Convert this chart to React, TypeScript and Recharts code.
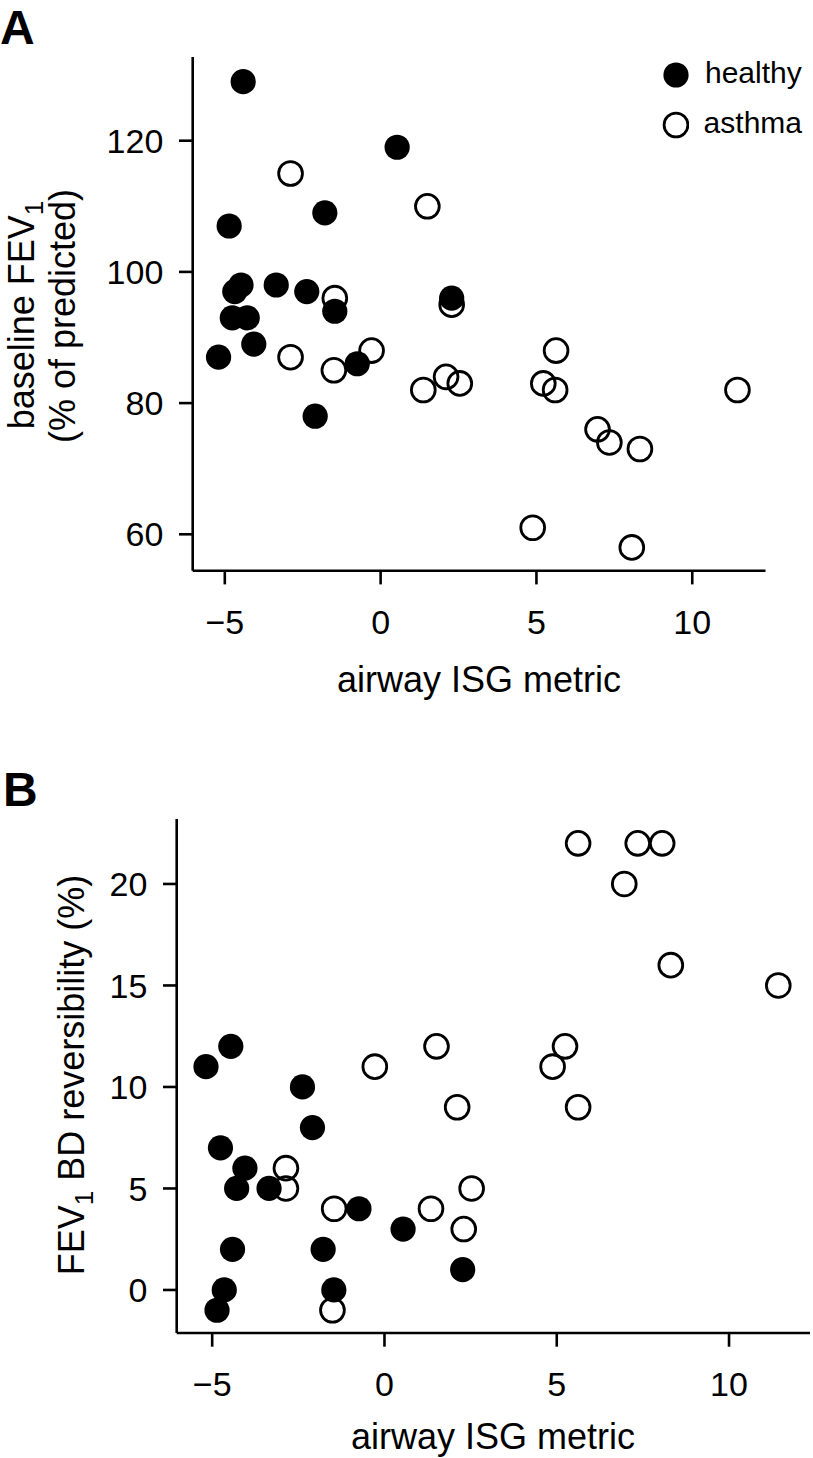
import { ScatterChart, Scatter, XAxis, YAxis, Legend } from "recharts";

const FONT = '"Liberation Sans", Arial, Helvetica, sans-serif';

// tick labels
const isgTicks = [-5, 0, 5, 10];
const fevTicks = [60, 80, 100, 120];
const bdrTicks = [0, 5, 10, 15, 20];

// panel A: airway ISG metric vs baseline FEV1 (% of predicted)
const healthyIsgA = [-4.41, 0.53, -1.79, -4.86, -4.48, -4.68, -3.35, -2.37, -1.47, -4.76, -4.28, -4.07, -5.2, -0.75, -2.1, 2.28];
const healthyFev1 = [129, 119, 109, 107, 98, 97, 98, 97, 94, 93, 93, 89, 87, 86, 78, 96];
const asthmaIsgA = [-2.89, 1.5, -1.47, 2.28, 5.63, -0.29, -2.89, -1.5, 2.1, 2.54, 5.22, 5.6, 1.37, 6.96, 7.34, 8.32, 4.88, 8.06, 11.45];
const asthmaFev1 = [115, 110, 96, 95, 88, 88, 87, 85, 84, 83, 83, 82, 82, 76, 74, 73, 61, 58, 82];

// panel B: airway ISG metric vs FEV1 BD reversibility (%)
const healthyIsgB = [-4.46, -5.18, -2.38, -2.09, -4.76, -4.05, -4.29, -3.35, -0.74, 0.54, -4.41, -1.78, 2.27, -4.65, -1.47, -4.86];
const healthyBdr = [12, 11, 10, 8, 7, 6, 5, 5, 4, 3, 2, 2, 1, 0, 0, -1];
const asthmaIsgB = [5.62, 7.35, 8.06, 6.96, 8.31, 11.43, 5.24, 4.88, 5.62, 1.51, -0.28, 2.11, -2.86, -2.86, -1.46, 1.35, 2.53, 2.3, -1.51];
const asthmaBdr = [22, 22, 22, 20, 16, 15, 12, 11, 9, 12, 11, 9, 6, 5, 4, 4, 5, 3, -1];

const isgDomain: [number, number] = [-6.03, 12.35];

const toPoints = (xs: number[], ys: number[]) => xs.map((x, i) => ({ x, y: ys[i] }));

// R prints negatives with a real minus sign
const fmtTick = (v: number) => (v < 0 ? "\u2212" + Math.abs(v) : String(v));

const FilledDot = (p: any) => <circle cx={p.cx} cy={p.cy} r={12.6} fill="#000" />;
const OpenDot = (p: any) => (
  <circle cx={p.cx} cy={p.cy} r={11.9} fill="none" stroke="#000" strokeWidth={2.8} />
);

const legendRows = [
  { label: "healthy", open: false },
  { label: "asthma", open: true },
];

const LegendBox = () => (
  <div style={{ fontFamily: FONT, fontSize: 30, color: "#000" }}>
    {legendRows.map((row) => (
      <div key={row.label} style={{ display: "flex", alignItems: "center", height: 50 }}>
        <svg width={28} height={28} style={{ display: "block", marginRight: 15 }}>
          {row.open ? (
            <circle cx={14} cy={14} r={11.9} fill="none" stroke="#000" strokeWidth={2.8} />
          ) : (
            <circle cx={14} cy={14} r={12.6} fill="#000" />
          )}
        </svg>
        <span style={{ lineHeight: "30px", position: "relative", top: -2, whiteSpace: "nowrap" }}>
          {row.label}
        </span>
      </div>
    ))}
  </div>
);

interface PanelProps {
  top: number;
  height: number;
  plot: { left: number; top: number; right: number; bottom: number };
  yDomain: [number, number];
  yTicks: number[];
  healthy: { x: number; y: number }[];
  asthma: { x: number; y: number }[];
  showLegend?: boolean;
}

function Panel({ top, height, plot, yDomain, yTicks, healthy, asthma, showLegend }: PanelProps) {
  const yAxisWidth = 150;
  const xAxisHeight = 100;
  const margin = {
    top: plot.top,
    left: plot.left - yAxisWidth,
    right: 813 - plot.right,
    bottom: height - plot.bottom - xAxisHeight,
  };
  const axisStyle = { stroke: "#000", strokeWidth: 2.6 };
  return (
    <div style={{ position: "absolute", left: 0, top }}>
      <ScatterChart width={813} height={height} margin={margin}>
        <XAxis
          type="number"
          dataKey="x"
          domain={isgDomain}
          ticks={isgTicks}
          allowDataOverflow
          height={xAxisHeight}
          tickSize={13.7}
          tickMargin={25.6}
          tickFormatter={fmtTick}
          tick={{ fill: "#000", fontSize: 34 }}
          axisLine={axisStyle}
          tickLine={axisStyle}
          stroke="#000"
        />
        <YAxis
          type="number"
          dataKey="y"
          domain={yDomain}
          ticks={yTicks}
          allowDataOverflow
          width={yAxisWidth}
          tickSize={13.7}
          tickMargin={15.7}
          tick={{ fill: "#000", fontSize: 34 }}
          axisLine={axisStyle}
          tickLine={axisStyle}
          stroke="#000"
        />
        <Scatter name="asthma" data={asthma} shape={OpenDot} isAnimationActive={false} />
        <Scatter name="healthy" data={healthy} shape={FilledDot} isAnimationActive={false} />
        {showLegend && (
          <Legend
            layout="vertical"
            align="center"
            verticalAlign="middle"
            wrapperStyle={{ left: 662, top: 50, width: 140, height: 100 }}
            content={() => <LegendBox />}
          />
        )}
      </ScatterChart>
    </div>
  );
}

export default function App() {
  return (
    <div
      style={{
        position: "absolute",
        left: 0,
        top: 0,
        width: 813,
        height: 1458,
        background: "#fff",
        fontFamily: FONT,
        overflow: "hidden",
      }}
    >
      <Panel
        top={0}
        height={720}
        plot={{ left: 192.7, top: 57, right: 765.5, bottom: 570.7 }}
        yDomain={[54.45, 132.76]}
        yTicks={fevTicks}
        healthy={toPoints(healthyIsgA, healthyFev1)}
        asthma={toPoints(asthmaIsgA, asthmaFev1)}
        showLegend
      />
      <Panel
        top={740}
        height={718}
        plot={{ left: 176.7, top: 79, right: 810, bottom: 593 }}
        yDomain={[-2.12, 23.2]}
        yTicks={bdrTicks}
        healthy={toPoints(healthyIsgB, healthyBdr)}
        asthma={toPoints(asthmaIsgB, asthmaBdr)}
      />
      {/* panel letters and axis titles */}
      <svg
        width={813}
        height={1458}
        style={{ position: "absolute", left: 0, top: 0, pointerEvents: "none", fontFamily: FONT }}
      >
        <text x={0} y={44} fontSize={48} fontWeight="bold" fill="#000">
          A
        </text>
        <text x={3} y={806} fontSize={48} fontWeight="bold" fill="#000">
          B
        </text>

        <text x={479} y={692} fontSize={36} textAnchor="middle" fill="#000">
          airway ISG metric
        </text>
        <text transform="translate(34,315) rotate(-90)" fontSize={36} textAnchor="middle" fill="#000">
          baseline FEV
          <tspan fontSize={26} dy={9}>
            1
          </tspan>
        </text>
        <text transform="translate(75,316) rotate(-90)" fontSize={36} textAnchor="middle" fill="#000">
          (% of predicted)
        </text>

        <text x={493} y={1449} fontSize={36} textAnchor="middle" fill="#000">
          airway ISG metric
        </text>
        <text transform="translate(84,1075) rotate(-90)" fontSize={36} textAnchor="middle" fill="#000">
          FEV
          <tspan fontSize={26} dy={9}>
            1
          </tspan>
          <tspan dy={-9}> BD reversibility (%)</tspan>
        </text>
      </svg>
    </div>
  );
}
